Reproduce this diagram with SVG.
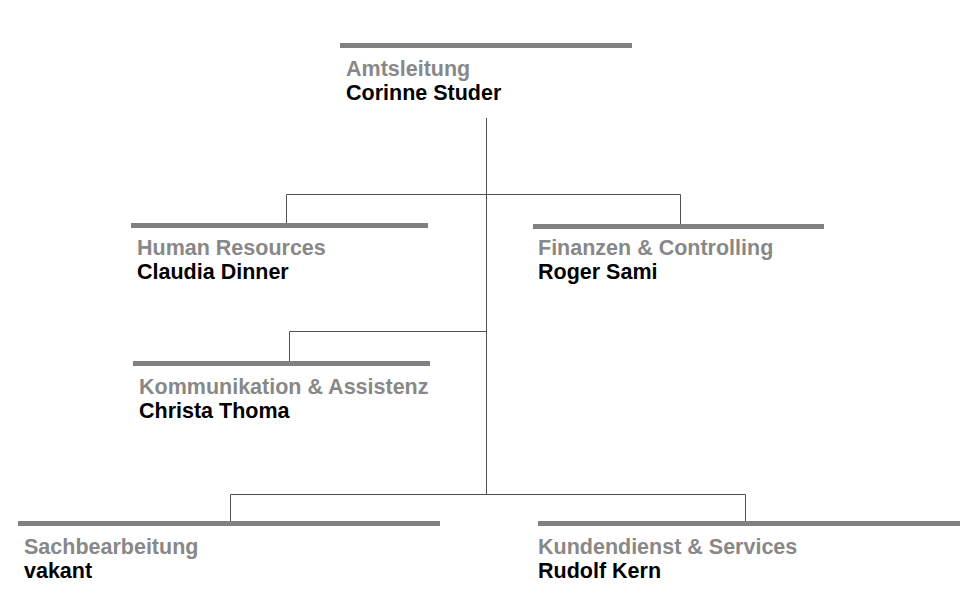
<svg xmlns="http://www.w3.org/2000/svg" width="975" height="609" viewBox="0 0 975 609">
<style>
.bar{fill:#808080}
.t{font-family:"Liberation Sans",Arial,sans-serif;font-weight:bold;font-size:21.5px;fill:#888888}
.n{font-family:"Liberation Sans",Arial,sans-serif;font-weight:bold;font-size:21.5px;fill:#000000}
.c{fill:none;stroke:#505050;stroke-width:1}
</style>
<rect width="975" height="609" fill="#ffffff"/>
<g id="connectors">
<line class="c" x1="486.5" y1="118" x2="486.5" y2="495"/>
<polyline class="c" points="286.5,223 286.5,194.5 680.5,194.5 680.5,224"/>
<polyline class="c" points="289.5,361 289.5,331.5 486.5,331.5"/>
<polyline class="c" points="230.5,521 230.5,494.5 745.5,494.5 745.5,521"/>
</g>
<g id="amtsleitung">
<rect class="bar" x="340" y="43" width="292" height="5"/>
<text class="t" x="346" y="76">Amtsleitung</text>
<text class="n" x="346" y="100">Corinne Studer</text>
</g>
<g id="hr">
<rect class="bar" x="131" y="223" width="297" height="5"/>
<text class="t" x="137" y="255">Human Resources</text>
<text class="n" x="137" y="279">Claudia Dinner</text>
</g>
<g id="finanzen">
<rect class="bar" x="533" y="224" width="291" height="5"/>
<text class="t" x="538" y="255">Finanzen &amp; Controlling</text>
<text class="n" x="538" y="279">Roger Sami</text>
</g>
<g id="kommunikation">
<rect class="bar" x="133" y="361" width="297" height="5"/>
<text class="t" x="139" y="394">Kommunikation &amp; Assistenz</text>
<text class="n" x="139" y="418">Christa Thoma</text>
</g>
<g id="sachbearbeitung">
<rect class="bar" x="18" y="521" width="422" height="5"/>
<text class="t" x="24" y="554">Sachbearbeitung</text>
<text class="n" x="24" y="578">vakant</text>
</g>
<g id="kundendienst">
<rect class="bar" x="538" y="521" width="422" height="5"/>
<text class="t" x="538" y="554">Kundendienst &amp; Services</text>
<text class="n" x="538" y="578">Rudolf Kern</text>
</g>
</svg>
